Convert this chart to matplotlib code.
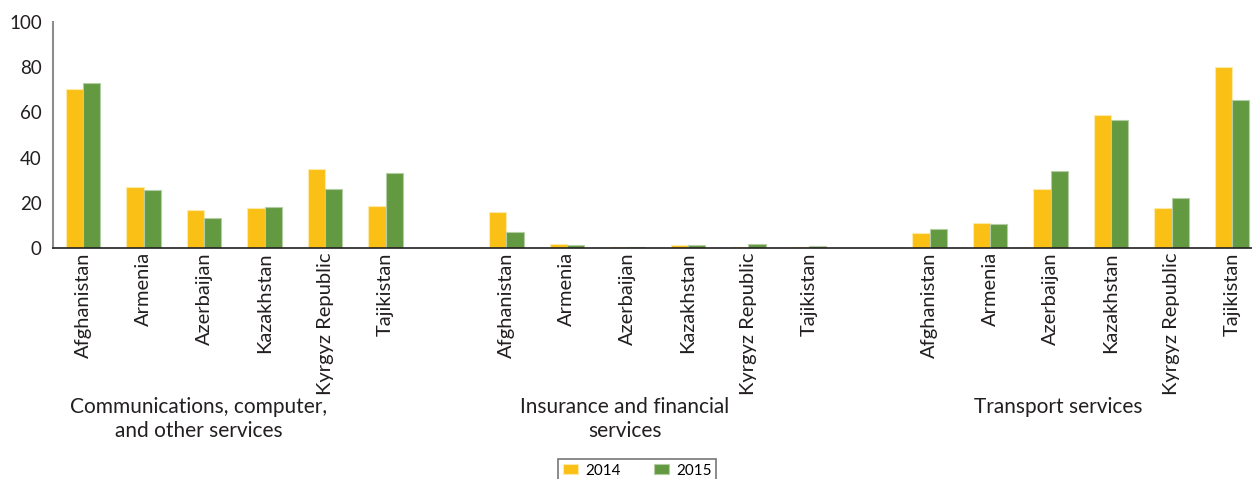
import matplotlib.pyplot as plt
import numpy as np

plt.rcParams['font.family'] = ['Lato', 'DejaVu Sans']

countries = ["Afghanistan", "Armenia", "Azerbaijan", "Kazakhstan", "Kyrgyz Republic", "Tajikistan"]
groups = ["Communications, computer,\nand other services",
          "Insurance and financial\nservices",
          "Transport services"]
years = ["2014", "2015"]

# share of services exports, %
comm_2014 = [70.6, 27.2, 16.9, 17.8, 35.0, 18.8]
comm_2015 = [73.2, 25.7, 13.4, 18.1, 26.2, 33.1]
ins_2014 = [15.9, 1.8, 0.5, 1.2, 0.3, 0.5]
ins_2015 = [7.1, 1.5, 0.5, 1.5, 1.8, 1.0]
trans_2014 = [6.9, 11.2, 26.0, 58.8, 17.7, 80.1]
trans_2015 = [8.5, 10.7, 34.1, 56.6, 22.1, 65.4]

yellow = "#FBC015"
green = "#639A41"

fig = plt.figure(figsize=(12.52, 4.79), dpi=100)
ax = fig.add_axes([0.0423, 0.482, 0.9577, 0.472])

n = len(countries)
w = 0.285
all_pos = []
for gi, (v14, v15) in enumerate([(comm_2014, comm_2015), (ins_2014, ins_2015), (trans_2014, trans_2015)]):
    pos = np.arange(n) + gi * (n + 1)
    all_pos.extend(pos)
    ax.bar(pos - w / 2, v14, w, color=yellow, edgecolor="#FDE9A8", linewidth=0.8,
           label=years[0] if gi == 0 else None)
    ax.bar(pos + w / 2, v15, w, color=green, edgecolor="#B5CDA5", linewidth=0.8,
           label=years[1] if gi == 0 else None)

ax.set_xlim(-0.5, 19.33)
ax.set_ylim(0, 100)
ax.set_yticks([0, 20, 40, 60, 80, 100])
ax.tick_params(axis="y", length=0, labelsize=13.5, colors="#231F20", pad=8)
ax.set_xticks(all_pos)
ax.set_xticklabels(countries * 3, rotation=90, fontsize=14.5, color="#231F20")
ax.tick_params(axis="x", length=0, pad=3)

for s in ["top", "right"]:
    ax.spines[s].set_visible(False)
ax.spines["left"].set_color("#8C8C8C")
ax.spines["left"].set_linewidth(1.5)
ax.spines["bottom"].set_color("#231F20")
ax.spines["bottom"].set_linewidth(1.2)

# group labels under the country names
for x, txt in zip([199, 625, 1058], groups):
    fig.text(x / 1252, 1 - 397 / 479, txt, ha="center", va="top", fontsize=15,
             color="#231F20", linespacing=1.25)

leg = fig.legend(loc="upper center", bbox_to_anchor=(0.509, 1 - 459 / 479), ncol=2,
                 fontsize=11, frameon=True, fancybox=False, edgecolor="#555555",
                 handlelength=1.0, handleheight=0.6, columnspacing=2.2,
                 borderpad=0.3, handletextpad=0.45, borderaxespad=0)
leg.get_frame().set_linewidth(1.2)

fig.savefig("out.png", dpi=100)
